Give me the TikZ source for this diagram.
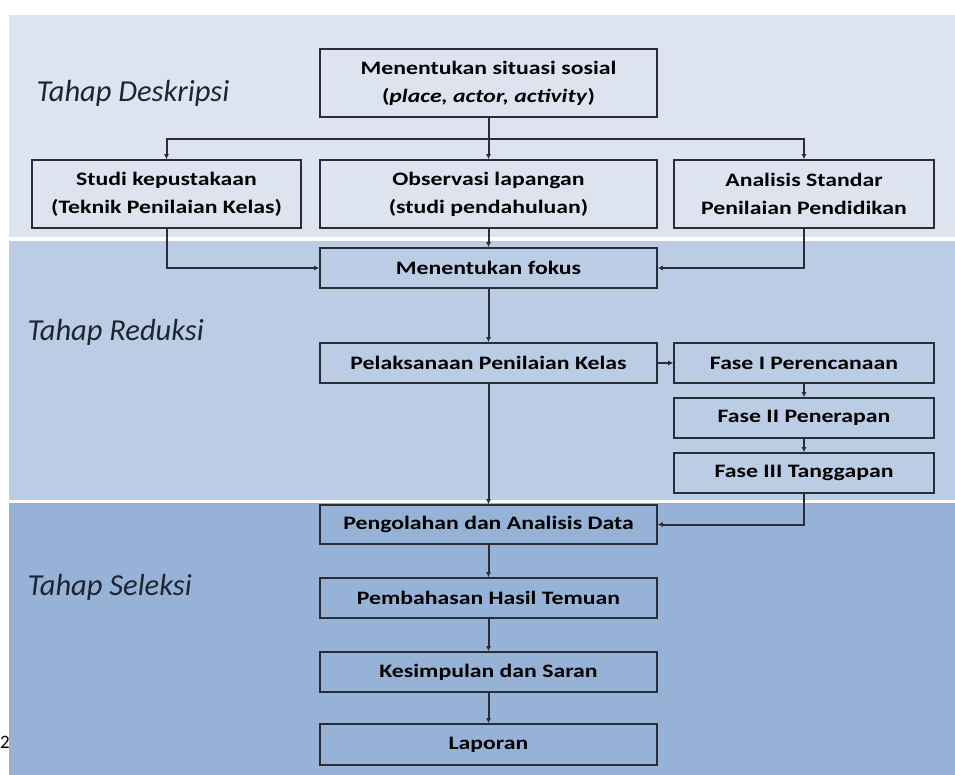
\documentclass[tikz,border=0pt]{standalone}
\usepackage{fontspec}
\setmainfont{Carlito}
\newfontfamily\boxfont[FakeStretch=1.25]{Carlito}
\usetikzlibrary{arrows.meta}
\definecolor{bandA}{RGB}{221,228,239}
\definecolor{bandB}{RGB}{186,205,229}
\definecolor{bandC}{RGB}{150,179,215}
\definecolor{edge}{RGB}{40,45,55}
\definecolor{labelc}{RGB}{30,36,48}
\begin{document}
\begin{tikzpicture}[x=1pt,y=-1pt,
  box/.style={draw=edge, line width=1.6pt, inner sep=0pt, align=center,
    font=\boxfont\bfseries\fontsize{19}{28}\selectfont, text=black},
  wide/.style={box, minimum width=337pt},
  conn/.style={draw=edge, line width=2pt},
  arr/.style={conn, -{Latex[length=5pt,width=5pt]}},
  stage/.style={anchor=west, font=\itshape\fontsize{30.5}{36}\selectfont, text=labelc}]
\useasboundingbox (0,0) rectangle (955,775);
\fill[white] (0,0) rectangle (955,775);
\fill[bandA] (9,15) rectangle (955,237);
\fill[bandB] (9,241) rectangle (955,500);
\fill[bandC] (9,503) rectangle (955,775);

\node[stage] (ld) at (33,93) {Tahap Deskripsi};
\node[stage] (lr) at (24,332) {Tahap Reduksi};
\node[stage] (ls) at (24,587) {Tahap Seleksi};
\node[anchor=west, inner sep=0pt, font=\fontsize{19}{22}\selectfont] (pg) at (0,742) {2};

\node[wide, minimum height=68pt] (top) at (488.5,83) {Menentukan situasi sosial\\(\textit{place, actor, activity})};
\node[box, minimum width=269pt, minimum height=68pt] (A) at (166.5,194) {Studi kepustakaan\\(Teknik Penilaian Kelas)};
\node[wide, minimum height=68pt] (B) at (488.5,194) {Observasi lapangan\\(studi pendahuluan)};
\node[box, minimum width=260pt, minimum height=68pt] (C) at (804,194) {Analisis Standar\\Penilaian Pendidikan};
\node[wide, minimum height=40pt] (fokus) at (488.5,268) {Menentukan fokus};
\node[wide, minimum height=40pt] (pel) at (488.5,363) {Pelaksanaan Penilaian Kelas};
\node[box, minimum width=260pt, minimum height=40pt] (f1) at (804,363) {Fase I Perencanaan};
\node[box, minimum width=260pt, minimum height=40pt] (f2) at (804,418) {Fase II Penerapan};
\node[box, minimum width=260pt, minimum height=40pt] (f3) at (804,473) {Fase III Tanggapan};
\node[wide, minimum height=39pt] (peng) at (488.5,524.5) {Pengolahan dan Analisis Data};
\node[wide, minimum height=40pt] (pemb) at (488.5,598) {Pembahasan Hasil Temuan};
\node[wide, minimum height=40pt] (kes) at (488.5,672) {Kesimpulan dan Saran};
\node[wide, minimum height=41pt] (lap) at (488.5,744.5) {Laporan};

\coordinate (j1) at (488.5,139);
\draw[conn] (top.south) -- (j1);
\draw[arr] (j1) -| (A.north);
\draw[arr] (j1) -| (C.north);
\draw[arr] (j1) -- (B.north);
\draw[arr] (A.south) |- (fokus.west);
\draw[arr] (C.south) |- (fokus.east);
\draw[arr] (B.south) -- (fokus.north);
\draw[arr] (fokus.south) -- (pel.north);
\draw[arr] (pel.east) -- (f1.west);
\draw[arr] (f1.south) -- (f2.north);
\draw[arr] (f2.south) -- (f3.north);
\draw[arr] (f3.south) |- (peng.east);
\draw[arr] (pel.south) -- (peng.north);
\draw[arr] (peng.south) -- (pemb.north);
\draw[arr] (pemb.south) -- (kes.north);
\draw[arr] (kes.south) -- (lap.north);
\end{tikzpicture}
\end{document}
